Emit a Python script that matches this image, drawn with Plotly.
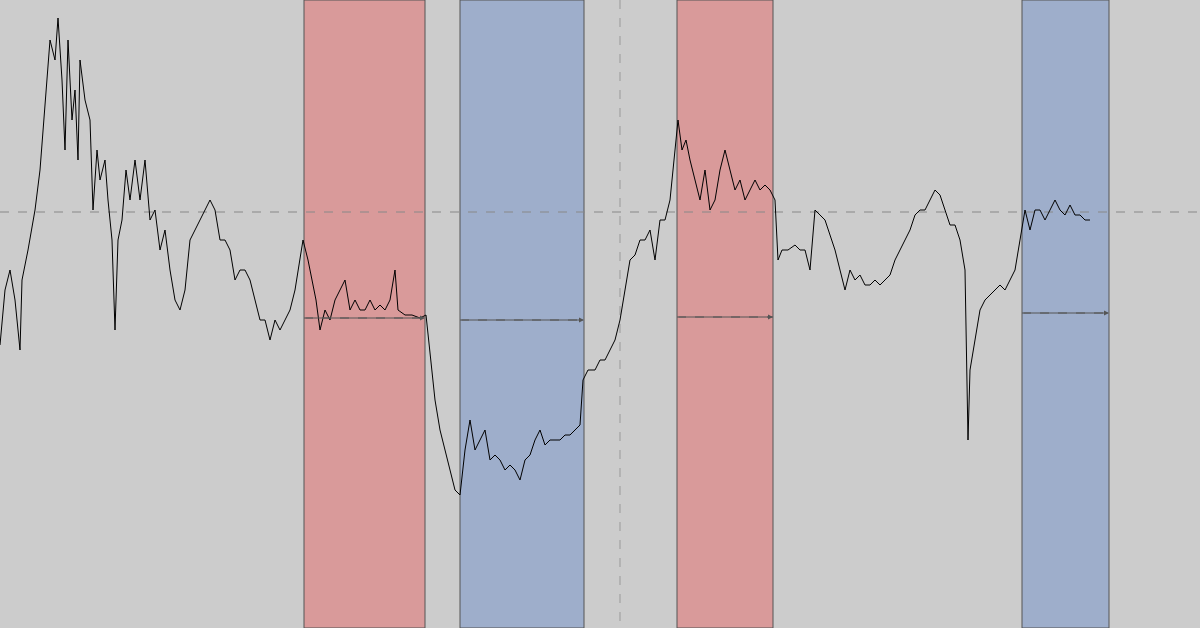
import plotly.graph_objects as go

pts = """0:345 5:290 10:270 15:300 20:350 22:280 28:250 35:210 40:170 45:100 50:40 55:60 58:18 62:80 65:150 68:40 72:120 75:90 78:160 80:60 85:100 90:120 93:210 97:150 100:180 105:160 108:200 112:240 115:330 118:240 122:220 126:170 130:200 135:160 140:200 145:160 150:220 155:210 160:250 165:230 170:270 175:300 180:310 185:290 190:240 195:230 200:220 205:210 210:200 215:210 220:240 225:240 230:250 235:280 240:270 245:270 250:280 255:300 260:320 265:320 270:340 275:320 280:330 285:320 290:310 295:290 300:260 303:240 308:260 312:280 316:300 320:330 325:310 330:320 335:300 340:290 345:280 350:310 355:300 360:310 365:310 370:300 375:310 380:305 385:310 390:300 395:270 398:310 405:315 412:315 420:318 426:315 430:350 435:400 440:430 445:450 450:470 455:490 460:495 465:450 470:420 475:450 480:440 485:430 490:460 495:455 500:460 505:470 510:465 515:470 520:480 525:460 530:455 535:440 540:430 545:445 550:440 555:440 560:440 565:435 570:435 575:430 580:425 583:380 588:370 595:370 600:360 605:360 610:350 615:340 620:320 625:290 630:260 635:255 640:240 645:240 650:230 655:260 660:220 665:220 670:200 675:150 678:120 682:150 686:140 690:160 695:180 700:200 705:170 710:210 715:200 720:170 725:150 730:170 735:190 740:180 745:200 750:190 755:180 760:190 765:185 770:190 775:200 778:260 782:250 788:250 795:245 800:250 805:250 810:270 815:210 820:215 825:220 830:235 835:250 840:270 845:290 850:270 855:280 860:275 865:285 870:285 875:280 880:285 885:280 890:275 895:260 900:250 905:240 910:230 915:215 920:210 925:210 930:200 935:190 940:195 945:210 950:225 955:225 960:240 965:270 968:440 970:370 975:340 980:310 985:300 990:295 995:290 1000:285 1005:290 1010:280 1015:270 1020:240 1025:210 1030:230 1035:210 1040:210 1045:220 1050:210 1055:200 1060:210 1065:215 1070:205 1075:215 1080:215 1085:220 1090:220"""
time = [int(p.split(":")[0]) for p in pts.split()]
depth = [int(p.split(":")[1]) for p in pts.split()]  # drawn downward (reversed axis)

red_zones = [(304, 425), (677, 773)]
blue_zones = [(460, 584), (1022, 1109)]
arrows = [(304, 425, 318), (460, 584, 320), (677, 773, 317), (1022, 1109, 313)]
ref_level = 212
vline = 620

fig = go.Figure()
fig.add_trace(go.Scatter(x=time, y=depth, mode="lines", line=dict(color="black", width=1), hoverinfo="skip"))
shapes = []
for a, b in red_zones:
    shapes.append(dict(type="rect", x0=a, x1=b, y0=0, y1=628, fillcolor="#d99a9a", line=dict(color="#555", width=1), layer="below"))
for a, b in blue_zones:
    shapes.append(dict(type="rect", x0=a, x1=b, y0=0, y1=628, fillcolor="#9eaecb", line=dict(color="#555", width=1), layer="below"))
shapes.append(dict(type="line", x0=0, x1=1200, y0=ref_level, y1=ref_level, line=dict(color="#888", width=1, dash="dash"), layer="below"))
shapes.append(dict(type="line", x0=vline, x1=vline, y0=0, y1=628, line=dict(color="#999", width=1, dash="dash"), layer="below"))
annotations = []
for a, b, y in arrows:
    annotations.append(dict(x=b, y=y, ax=a, ay=y, xref="x", yref="y", axref="x", ayref="y", text="",
                            showarrow=True, arrowhead=2, arrowsize=1, arrowwidth=1, arrowcolor="#555"))
    shapes.append(dict(type="line", x0=a, x1=b, y0=y, y1=y, line=dict(color="#555", width=1, dash="dash")))
fig.update_layout(width=1200, height=628, margin=dict(l=0, r=0, t=0, b=0),
                  plot_bgcolor="#cccccc", paper_bgcolor="#cccccc", showlegend=False,
                  shapes=shapes, annotations=annotations,
                  xaxis=dict(range=[0, 1200], visible=False),
                  yaxis=dict(range=[628, 0], visible=False))
fig.write_html("out.html", config={"displayModeBar": False},
               post_script="document.body.style.margin='0';document.body.style.overflow='hidden';")
